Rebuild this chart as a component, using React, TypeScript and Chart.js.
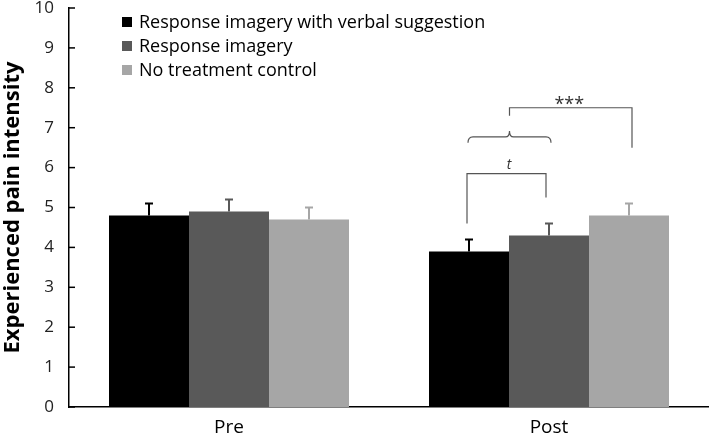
import React, { useEffect, useRef } from 'react';
import { Chart, registerables } from 'chart.js';

Chart.register(...registerables);

const categories = ['Pre', 'Post'];
const seriesLabels = ['Response imagery with verbal suggestion', 'Response imagery', 'No treatment control'];
const seriesColors = ['#000000', '#595959', '#a6a6a6'];
const verbalValues = [4.8, 3.9];
const verbalErrors = [0.3, 0.3];
const imageryValues = [4.9, 4.3];
const imageryErrors = [0.3, 0.3];
const controlValues = [4.7, 4.8];
const controlErrors = [0.3, 0.3];
const yTicks = [0, 1, 2, 3, 4, 5, 6, 7, 8, 9, 10];

const FONT = '"Open Sans", sans-serif';

const errorsBySeries = [verbalErrors, imageryErrors, controlErrors];

const errorBarPlugin = {
  id: 'errorBars',
  afterDatasetsDraw(chart: any) {
    const ctx = chart.ctx;
    const y = chart.scales.y;
    chart.data.datasets.forEach((ds: any, di: number) => {
      const meta = chart.getDatasetMeta(di);
      meta.data.forEach((bar: any, i: number) => {
        const v = ds.data[i];
        const e = errorsBySeries[di][i];
        const top = y.getPixelForValue(v + e);
        const base = y.getPixelForValue(v);
        ctx.save();
        ctx.strokeStyle = seriesColors[di];
        ctx.lineWidth = 2;
        ctx.beginPath();
        ctx.moveTo(bar.x, base);
        ctx.lineTo(bar.x, top);
        ctx.moveTo(bar.x - 4, top);
        ctx.lineTo(bar.x + 4, top);
        ctx.stroke();
        ctx.restore();
      });
    });
  },
};

const axisPlugin = {
  id: 'axisTicks',
  afterDraw(chart: any) {
    const ctx = chart.ctx;
    const y = chart.scales.y;
    const left = chart.chartArea.left;
    ctx.save();
    ctx.strokeStyle = '#000';
    ctx.lineWidth = 1.5;
    y.ticks.forEach((t: any) => {
      const py = y.getPixelForValue(t.value);
      ctx.beginPath();
      ctx.moveTo(left, py);
      ctx.lineTo(left + 6, py);
      ctx.stroke();
    });
    ctx.restore();
  },
};

const legendPlugin = {
  id: 'customLegend',
  afterDraw(chart: any) {
    const ctx = chart.ctx;
    ctx.save();
    ctx.font = `18px ${FONT}`;
    ctx.textBaseline = 'middle';
    seriesLabels.forEach((label, i) => {
      const cy = 22 + i * 24;
      ctx.fillStyle = seriesColors[i];
      ctx.fillRect(122, cy - 5, 10, 10);
      ctx.fillStyle = '#000';
      ctx.fillText(label, 139, cy + 1);
    });
    ctx.restore();
  },
};

const annotationPlugin = {
  id: 'sigAnnotations',
  afterDraw(chart: any) {
    const ctx = chart.ctx;
    const y = chart.scales.y;
    const i = 1;
    const x0 = chart.getDatasetMeta(0).data[i].x;
    const x1 = chart.getDatasetMeta(1).data[i].x;
    const x2 = chart.getDatasetMeta(2).data[i].x;
    const py = (v: number) => y.getPixelForValue(v);
    ctx.save();
    ctx.strokeStyle = '#555';
    ctx.lineWidth = 1.2;
    // t bracket
    ctx.beginPath();
    ctx.moveTo(x0 - 2, py(4.6));
    ctx.lineTo(x0 - 2, py(5.85));
    ctx.lineTo(x1 - 3, py(5.85));
    ctx.lineTo(x1 - 3, py(5.25));
    ctx.stroke();
    // brace
    const by = py(6.77);
    const bEnd = py(6.62);
    const bPeak = py(6.92);
    const bl = x0 - 1;
    const br = x1 + 2;
    const bm = (bl + br) / 2;
    ctx.beginPath();
    ctx.moveTo(bl, bEnd);
    ctx.quadraticCurveTo(bl, by, bl + 5, by);
    ctx.lineTo(bm - 4, by);
    ctx.quadraticCurveTo(bm, by, bm, bPeak);
    ctx.quadraticCurveTo(bm, by, bm + 4, by);
    ctx.lineTo(br - 5, by);
    ctx.quadraticCurveTo(br, by, br, bEnd);
    ctx.stroke();
    // *** bracket
    ctx.beginPath();
    ctx.moveTo(bm, py(7.3));
    ctx.lineTo(bm, py(7.5));
    ctx.lineTo(x2 + 3, py(7.5));
    ctx.lineTo(x2 + 3, py(6.5));
    ctx.stroke();
    ctx.fillStyle = '#333';
    ctx.textAlign = 'center';
    ctx.textBaseline = 'middle';
    ctx.font = `italic 14px ${FONT}`;
    ctx.fillText('t', (x0 + x1) / 2, py(6.07));
    ctx.font = `18px ${FONT}`;
    ctx.fillText('***', (bm + x2) / 2, py(7.68) + 4);
    ctx.restore();
  },
};

export default function App() {
  const ref = useRef<HTMLCanvasElement>(null);
  useEffect(() => {
    document.body.style.margin = '0';
    const chart = new Chart(ref.current!, {
      type: 'bar',
      data: {
        labels: categories,
        datasets: [
          { label: seriesLabels[0], data: verbalValues, backgroundColor: seriesColors[0] },
          { label: seriesLabels[1], data: imageryValues, backgroundColor: seriesColors[1] },
          { label: seriesLabels[2], data: controlValues, backgroundColor: seriesColors[2] },
        ],
      },
      options: {
        animation: false,
        responsive: false,
        layout: { padding: 0 },
        plugins: { legend: { display: false }, tooltip: { enabled: false } },
        datasets: { bar: { categoryPercentage: 0.75, barPercentage: 1 } },
        scales: {
          x: {
            grid: { display: false, drawTicks: false },
            border: { display: true, color: '#000', width: 1.5 },
            ticks: { color: '#000', font: { family: FONT, size: 19 }, padding: 9 },
            afterFit: (s: any) => { s.height = 28; s.paddingLeft = 0; s.paddingRight = 0; },
          },
          y: {
            min: 0,
            max: 10,
            afterBuildTicks: (s: any) => { s.ticks = yTicks.map((v) => ({ value: v })); },
            grid: { display: false, drawTicks: false },
            border: { display: true, color: '#000', width: 1.5 },
            ticks: { color: '#222', font: { family: FONT, size: 17 }, padding: 15 },
            title: {
              display: true,
              text: 'Experienced pain intensity',
              color: '#000',
              font: { family: FONT, size: 22, weight: 'bold' },
              padding: { top: 0, bottom: 0 },
            },
            afterFit: (s: any) => { s.width = 69; s.paddingTop = 8; s.paddingBottom = 0; },
          },
        },
      },
      plugins: [errorBarPlugin, axisPlugin, legendPlugin, annotationPlugin],
    });
    return () => chart.destroy();
  }, []);
  return <canvas ref={ref} width={709} height={435} style={{ display: 'block' }} />;
}
